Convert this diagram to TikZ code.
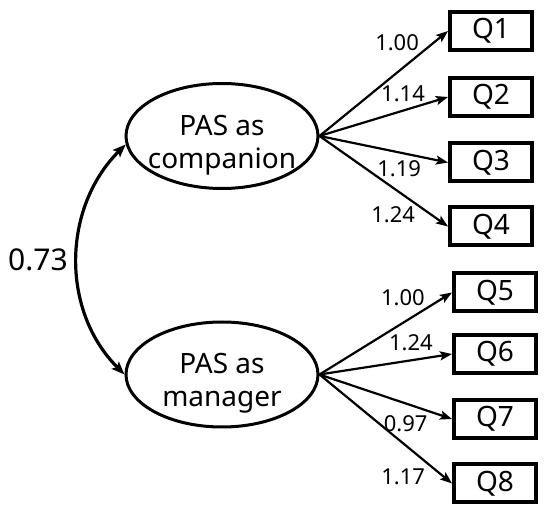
\documentclass[tikz,border=0pt]{standalone}
\usepackage{fontspec}
\setmainfont{Noto Sans}
\usepackage{tikz}
\usetikzlibrary{arrows.meta,shapes.geometric}
\tikzset{
  latent/.style={ellipse, draw, line width=3pt, minimum width=192pt,
                 minimum height=105pt, inner sep=0pt},
  lvtext/.style={align=center, inner sep=0pt,
                 font=\fontsize{28}{33}\selectfont},
  item/.style={rectangle, draw, line width=4pt, minimum width=82pt,
               minimum height=38pt, inner sep=0pt,
               font=\fontsize{28}{32}\selectfont},
  load/.style={-{Stealth[length=12pt,width=9pt,inset=2.5pt]}, line width=2.2pt},
  loadlbl/.style={font=\fontsize{22}{26}\selectfont, inner sep=1pt},
  covar/.style={{Stealth[length=13pt,width=10pt,inset=2.5pt]}-{Stealth[length=13pt,width=10pt,inset=2.5pt]},
                line width=3.2pt},
}
\begin{document}
\begin{tikzpicture}[x=1pt,y=1pt]
  \useasboundingbox (0,0) rectangle (550,520);
  % latent factors
  \node[latent] (c1) at (222,384) {};
  \node[lvtext] (c1txt) at ([yshift=-9pt]c1) {PAS as\\companion};
  \node[latent] (c2) at (222,145.5) {};
  \node[lvtext] (c2txt) at ([yshift=-9pt]c2) {PAS as\\manager};
  % items
  \foreach \i/\y in {1/489,2/423,3/357.5,4/293.5}
    \node[item] (q\i) at (491,\y) {Q\i};
  \foreach \i/\y in {5/227.5,6/166,7/101,8/36.5}
    \node[item] (q\i) at (495,\y) {Q\i};
  % loadings, companion
  \draw[load] (c1.east) -- (q1.west) node[loadlbl,pos=0.79,anchor=south east]{1.00};
  \draw[load] (c1.east) -- (q2.west) node[loadlbl,pos=0.65,above=7pt]{1.14};
  \draw[load] (c1.east) -- (q3.west) node[loadlbl,pos=0.62,below=6pt]{1.19};
  \draw[load] (c1.east) -- (q4.west) node[loadlbl,pos=0.76,anchor=north east]{1.24};
  % loadings, manager
  \draw[load] (c2.east) -- (q5.west) node[loadlbl,pos=0.81,anchor=south east]{1.00};
  \draw[load] (c2.east) -- (q6.west) node[loadlbl,pos=0.69,above=7pt]{1.24};
  \draw[load] (c2.east) -- (q7.west) node[loadlbl,pos=0.65,below=10pt]{0.97};
  \draw[load] (c2.east) -- (q8.west) node[loadlbl,pos=0.94,left=17pt]{1.17};
  % correlation
  \draw[covar] (c1.185) to[out=225,in=135]
    node[midway,left=7pt,inner sep=1pt,font=\fontsize{30}{34}\selectfont]{0.73} (c2.west);
\end{tikzpicture}
\end{document}
